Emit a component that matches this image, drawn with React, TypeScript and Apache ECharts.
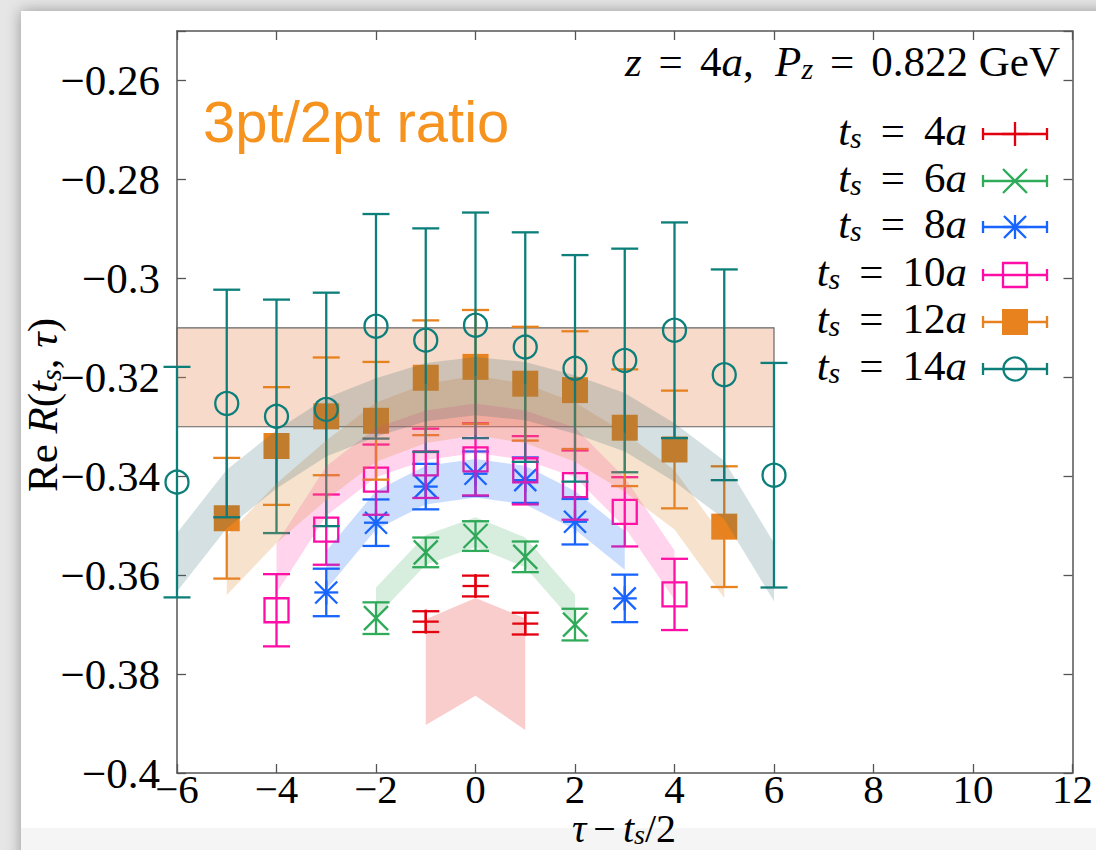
import React, { useEffect, useRef } from "react";
import * as echarts from "echarts";

// ---------------- data ----------------
const tau4 = [-1, 0, 1];
const re4 = [-0.3694, -0.3622, -0.3698];
const err4 = [0.0021, 0.0021, 0.0022];

const tau6 = [-2, -1, 0, 1, 2];
const re6 = [-0.3687, -0.3554, -0.3521, -0.3563, -0.37];
const err6 = [0.0032, 0.003, 0.003, 0.0031, 0.0032];

const tau8 = [-3, -2, -1, 0, 1, 2, 3];
const re8 = [-0.3635, -0.3494, -0.3421, -0.3395, -0.3408, -0.3492, -0.3647];
const err8 = [0.0048, 0.0047, 0.0046, 0.0045, 0.0046, 0.0046, 0.0048];

const tau10 = [-4, -3, -2, -1, 0, 1, 2, 3, 4];
const re10 = [-0.3671, -0.3508, -0.3407, -0.3374, -0.3366, -0.3388, -0.3418, -0.3472, -0.3639];
const err10 = [0.0073, 0.0071, 0.0071, 0.007, 0.0073, 0.0069, 0.007, 0.007, 0.0072];

const tau12 = [-5, -4, -3, -2, -1, 0, 1, 2, 3, 4, 5];
const re12 = [-0.3485, -0.3339, -0.3279, -0.3288, -0.3201, -0.3179, -0.3213, -0.3226, -0.3302, -0.3346, -0.3502];
const err12 = [0.0122, 0.0119, 0.0119, 0.0119, 0.0116, 0.0115, 0.0115, 0.0119, 0.0118, 0.0119, 0.0122];

const tau14 = [-6, -5, -4, -3, -2, -1, 0, 1, 2, 3, 4, 5, 6];
const re14 = [-0.3412, -0.3253, -0.3279, -0.3265, -0.3097, -0.3125, -0.3095, -0.3139, -0.3182, -0.3166, -0.3105, -0.3195, -0.3398];
const err14 = [0.0233, 0.023, 0.0236, 0.0236, 0.0227, 0.0226, 0.0228, 0.0232, 0.0229, 0.0226, 0.0218, 0.0213, 0.0227];

// fit bands (centre, half width)
const fit4Mid = [-0.3796, -0.3745, -0.38];
const fit4Half = [0.0107, 0.0099, 0.0113];
const fit6Mid = [-0.3655, -0.3549, -0.3513, -0.3554, -0.3669];
const fit6Half = [0.003, 0.003, 0.003, 0.003, 0.003];
const fit8Mid = [-0.359, -0.3469, -0.3418, -0.3404, -0.3418, -0.3469, -0.355];
const fit8Half = [0.0039, 0.0039, 0.0039, 0.0039, 0.0039, 0.0039, 0.0039];
const fit10Mid = [-0.3586, -0.343, -0.3352, -0.3317, -0.3303, -0.3317, -0.3352, -0.3453, -0.36];
const fit10Half = [0.005, 0.005, 0.005, 0.005, 0.005, 0.005, 0.005, 0.005, 0.005];
const fit12Mid = [-0.358, -0.3475, -0.3388, -0.3311, -0.3273, -0.3257, -0.3273, -0.3311, -0.3372, -0.3448, -0.3586];
const fit12Half = [0.006, 0.006, 0.006, 0.006, 0.006, 0.006, 0.006, 0.006, 0.006, 0.006, 0.006];
const fit14Mid = [-0.3574, -0.3446, -0.3366, -0.3301, -0.3261, -0.323, -0.3218, -0.3228, -0.3255, -0.3291, -0.3352, -0.3428, -0.3594];
const fit14Half = [0.0059, 0.0059, 0.0059, 0.0059, 0.0059, 0.0059, 0.0059, 0.0059, 0.0059, 0.0059, 0.0059, 0.0059, 0.0059];

// plateau band
const plateauTau = [-6, 6];
const plateauRe = [-0.33, -0.31];

const legendLabels = ["4a", "6a", "8a", "10a", "12a", "14a"];

const xMin = -6, xMax = 12, xStep = 2;
const yMin = -0.4, yMax = -0.25, yStep = 0.02;

// ---------------- styles ----------------
const SERIF = "'Liberation Serif', 'Times New Roman', serif";
const SANS = "'Liberation Sans', Arial, sans-serif";
const C = {
  red: "#e2000f",
  green: "#2fab5a",
  blue: "#1764ff",
  pink: "#ff0da6",
  orange: "#e8821e",
  teal: "#0d7f7a",
};
const BAND = {
  red: "rgba(230,20,20,0.21)",
  green: "rgba(40,160,80,0.19)",
  blue: "rgba(30,110,240,0.23)",
  pink: "rgba(255,40,160,0.2)",
  orange: "rgba(225,140,60,0.25)",
  teal: "rgba(40,100,105,0.2)",
};
const LW = 2.3;

function ln(x1: number, y1: number, x2: number, y2: number, color: string) {
  return { type: "line", shape: { x1, y1, x2, y2 }, style: { stroke: color, lineWidth: LW } };
}

function markerShapes(kind: string, cx: number, cy: number, color: string): any[] {
  switch (kind) {
    case "plus":
      return [ln(cx - 13, cy, cx + 13, cy, color), ln(cx, cy - 12, cx, cy + 12, color)];
    case "cross":
      return [ln(cx - 12, cy - 12, cx + 12, cy + 12, color), ln(cx - 12, cy + 12, cx + 12, cy - 12, color)];
    case "star":
      return [
        ln(cx - 11, cy - 11, cx + 11, cy + 11, color),
        ln(cx - 11, cy + 11, cx + 11, cy - 11, color),
        ln(cx - 12, cy, cx + 12, cy, color),
        ln(cx, cy - 12, cx, cy + 12, color),
      ];
    case "osq":
      return [{ type: "rect", shape: { x: cx - 12, y: cy - 12, width: 24, height: 24 }, style: { stroke: color, lineWidth: LW, fill: "none" } }];
    case "fsq":
      return [{ type: "rect", shape: { x: cx - 13, y: cy - 13, width: 26, height: 26 }, style: { fill: color } }];
    case "oci":
      return [{ type: "circle", shape: { cx, cy, r: 11.5 }, style: { stroke: color, lineWidth: LW, fill: "none" } }];
  }
  return [];
}

function errSeries(name: string, xs: number[], ys: number[], es: number[], color: string, kind: string) {
  return {
    name,
    type: "custom",
    coordinateSystem: "cartesian2d",
    xAxisIndex: 0,
    yAxisIndex: 0,
    z: 3,
    clip: false,
    encode: { x: 0, y: 1 },
    data: xs.map((x, i) => [x, ys[i], es[i]]),
    renderItem: (params: any, api: any) => {
      const x = api.value(0), y = api.value(1), e = api.value(2);
      const c = api.coord([x, y]);
      const t = api.coord([x, y + e]);
      const b = api.coord([x, y - e]);
      const cw = 13.5;
      return {
        type: "group",
        children: [
          ln(c[0], t[1], c[0], b[1], color),
          ln(c[0] - cw, t[1], c[0] + cw, t[1], color),
          ln(c[0] - cw, b[1], c[0] + cw, b[1], color),
          ...markerShapes(kind, c[0], c[1], color),
        ],
      };
    },
  };
}

function bandSeries(name: string, xs: number[], mid: number[], half: number[], fill: string) {
  return {
    name,
    type: "custom",
    coordinateSystem: "cartesian2d",
    xAxisIndex: 0,
    yAxisIndex: 0,
    z: 5,
    silent: true,
    encode: { x: 0, y: 1 },
    data: xs.map((x, i) => [x, mid[i], half[i]]),
    renderItem: (params: any, api: any) => {
      if (params.dataIndex !== 0) return null;
      const top = xs.map((x, i) => api.coord([x, mid[i] + half[i]]));
      const bot = xs.map((x, i) => api.coord([x, mid[i] - half[i]])).reverse();
      return { type: "polygon", shape: { points: top.concat(bot) }, style: { fill } };
    },
  };
}

const fmt = (v: number) => {
  const r = Math.round(v * 1000) / 1000;
  if (Math.abs(r) < 1e-9) return "0";
  return (r < 0 ? "\u2212" : "") + String(Math.abs(r));
};

const rich = (fs: number, lh: number, eqPad: number) => ({
  n: { fontFamily: SERIF, fontSize: fs, lineHeight: lh, color: "#000" },
  i: { fontFamily: SERIF, fontSize: fs, fontStyle: "italic", lineHeight: lh, color: "#000" },
  e: { fontFamily: SERIF, fontSize: fs, lineHeight: lh, color: "#000", padding: [0, eqPad, 0, eqPad] },
  m: { fontFamily: SERIF, fontSize: fs, lineHeight: lh, color: "#000", padding: [0, 7, 0, 7] },
  s: { fontFamily: SERIF, fontSize: Math.round(fs * 0.7), fontStyle: "italic", lineHeight: 24, verticalAlign: "bottom", color: "#000" },
});

function textEl(text: string, x: number, y: number, align: string, fs: number, lh: number, eqPad: number, rotation = 0) {
  return {
    type: "text",
    x,
    y,
    rotation,
    z: 10,
    style: {
      text,
      rich: rich(fs, lh, eqPad),
      fontFamily: SERIF,
      fontSize: fs,
      fill: "#000",
      textAlign: align,
      align,
      textVerticalAlign: "middle",
      verticalAlign: "middle",
    },
  };
}

function legendGraphics() {
  const rows = [134, 181, 227, 275, 322, 369];
  const colors = [C.red, C.green, C.blue, C.pink, C.orange, C.teal];
  const kinds = ["plus", "cross", "star", "osq", "fsq", "oci"];
  const els: any[] = [];
  legendLabels.forEach((lab, k) => {
    const y = rows[k];
    const num = lab.replace("a", "");
    els.push(textEl(`{i|t}{s|s}{e|=}{n|${num}}{i|a}`, 967, y - 4, "right", 43, 44, 19));
    const col = colors[k];
    const x1 = 983, x2 = 1047, xm = 1015;
    els.push({ type: "group", z: 10, children: [
      ln(x1, y, x2, y, col),
      ln(x1, y - 6, x1, y + 6, col),
      ln(x2, y - 6, x2, y + 6, col),
      ...markerShapes(kinds[k], xm, y, col),
    ] });
  });
  return els;
}

export default function App() {
  const ref = useRef<HTMLDivElement>(null);
  useEffect(() => {
    if (!ref.current) return;
    const chart = echarts.init(ref.current, null, { renderer: "svg" });
    const axisCommonX = {
      type: "value",
      min: xMin,
      max: xMax,
      interval: xStep,
      splitLine: { show: false },
      axisLine: { show: true, onZero: false, lineStyle: { color: "#555", width: 1.5 } },
      axisTick: { show: true, inside: true, length: 9, lineStyle: { color: "#555", width: 1.3 } },
    };
    const axisCommonY = {
      type: "value",
      min: yMin,
      max: yMax,
      interval: yStep,
      splitLine: { show: false },
      axisLine: { show: true, onZero: false, lineStyle: { color: "#555", width: 1.5 } },
      axisTick: { show: true, inside: true, length: 9, lineStyle: { color: "#555", width: 1.3 } },
    };
    const option: any = {
      animation: false,
      backgroundColor: "transparent",
      grid: { left: 177, right: 23, top: 31, bottom: 77, containLabel: false },
      xAxis: [
        {
          ...axisCommonX,
          position: "bottom",
          axisLabel: { formatter: fmt, fontFamily: SERIF, fontSize: 41, lineHeight: 30, color: "#000", margin: 1 },
        },
        { ...axisCommonX, position: "top", axisLabel: { show: false } },
      ],
      yAxis: [
        {
          ...axisCommonY,
          position: "left",
          axisLabel: {
            formatter: (v: number) => (Math.abs(v - yMax) < 1e-6 ? "" : fmt(v)),
            fontFamily: SERIF,
            fontSize: 43,
            color: "#000",
            margin: 17,
          },
        },
        { ...axisCommonY, position: "right", axisLabel: { show: false } },
      ],
      graphic: [
        textEl("{i|z}{e|=}{n|4}{i|a}{n|,  }{i|P}{s|z}{e|=}{n|0.822 GeV}", 1060, 61, "right", 43, 44, 17),
        {
          type: "text",
          x: 203,
          y: 121,
          z: 10,
          style: {
            text: "3pt/2pt ratio",
            fontFamily: SANS,
            fontSize: 58,
            fill: "#f6921e",
            textAlign: "left",
            align: "left",
            textVerticalAlign: "middle",
            verticalAlign: "middle",
          },
        },
        textEl("{i|τ}{m|\u2212}{i|t}{s|s}{n|/2}", 624, 828, "center", 40, 40, 8),
        textEl("{n|Re }{i|R}{n|(}{i|t}{s|s}{n|, }{i|τ}{n|)}", 42, 405, "center", 43, 46, 8, Math.PI / 2),
        ...legendGraphics(),
      ],
      series: [
        {
          name: "plateau",
          type: "custom",
          coordinateSystem: "cartesian2d",
          xAxisIndex: 0,
          yAxisIndex: 0,
          z: 1,
          silent: true,
          encode: { x: [0, 2], y: [1, 3] },
          data: [[plateauTau[0], plateauRe[1], plateauTau[1], plateauRe[0]]],
          renderItem: (params: any, api: any) => {
            const p1 = api.coord([api.value(0), api.value(1)]);
            const p2 = api.coord([api.value(2), api.value(3)]);
            return {
              type: "rect",
              shape: { x: p1[0], y: p1[1], width: p2[0] - p1[0], height: p2[1] - p1[1] },
              style: { fill: "rgba(232,140,90,0.32)", stroke: "#666", lineWidth: 1.2 },
            };
          },
        },
        errSeries("t_s = 4a", tau4, re4, err4, C.red, "plus"),
        errSeries("t_s = 6a", tau6, re6, err6, C.green, "cross"),
        errSeries("t_s = 8a", tau8, re8, err8, C.blue, "star"),
        errSeries("t_s = 10a", tau10, re10, err10, C.pink, "osq"),
        errSeries("t_s = 12a", tau12, re12, err12, C.orange, "fsq"),
        errSeries("t_s = 14a", tau14, re14, err14, C.teal, "oci"),
        bandSeries("fit 4a", tau4, fit4Mid, fit4Half, BAND.red),
        bandSeries("fit 6a", tau6, fit6Mid, fit6Half, BAND.green),
        bandSeries("fit 8a", tau8, fit8Mid, fit8Half, BAND.blue),
        bandSeries("fit 10a", tau10, fit10Mid, fit10Half, BAND.pink),
        bandSeries("fit 12a", tau12, fit12Mid, fit12Half, BAND.orange),
        bandSeries("fit 14a", tau14, fit14Mid, fit14Half, BAND.teal),
      ],
    };
    chart.setOption(option);
    return () => chart.dispose();
  }, []);

  return (
    <div style={{ position: "fixed", left: 0, top: 0, width: 1096, height: 850, background: "#e6e6e6", overflow: "hidden" }}>
      <div style={{ position: "absolute", left: 21, top: 11, width: 1100, height: 860, background: "#fff", boxShadow: "0 0 14px rgba(0,0,0,0.35)" }} />
      <div style={{ position: "absolute", left: 21, top: 828, width: 1100, height: 30, background: "#f5f5f5" }} />
      <div ref={ref} style={{ position: "absolute", left: 0, top: 0, width: 1096, height: 850 }} />
    </div>
  );
}
